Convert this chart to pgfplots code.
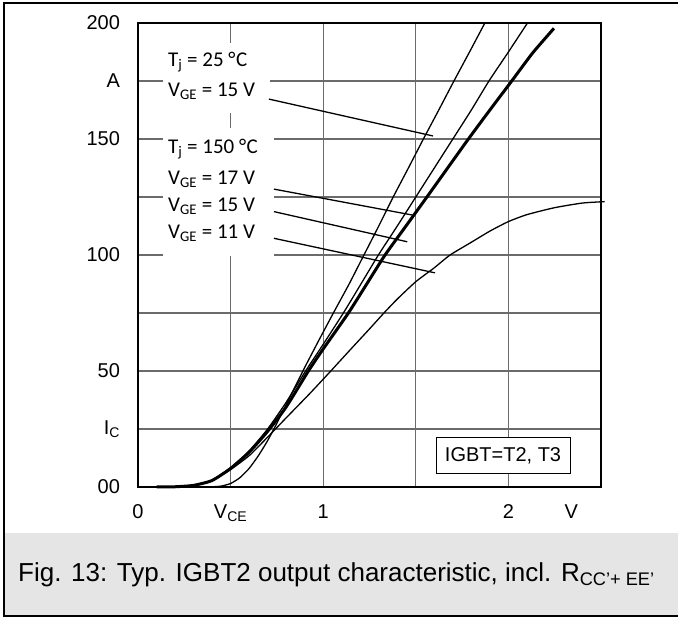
\documentclass[border=0pt]{standalone}
\usepackage{fontspec}
\setmainfont{Liberation Sans}
\newfontfamily\calfont{Carlito}
\usepackage{pgfplots}
\pgfplotsset{compat=1.18}
\definecolor{gridgray}{gray}{0.42}
\definecolor{capgray}{gray}{0.9}

\pgfplotstableread{
x y
0.1 0
0.3 0
0.4 0.1
0.45 0.4
0.5 1.5
0.55 4
0.6 8
0.65 13.5
0.7 20
0.75 27.5
0.8 35.5
0.85 43.5
0.9 51.5
0.975 63
1.055 75
1.14 87.5
1.22 100
1.3 112.5
1.378 125
1.46 137.5
1.541 150
1.624 162.5
1.706 175
1.79 187.5
1.873 200
}\tjcold

\pgfplotstableread{
x y
0.1 0
0.2 0.1
0.3 0.8
0.4 3
0.5 8.3
0.6 15.5
0.7 25
0.8 36.5
0.905 50
1.0 61.5
1.109 75
1.2 87
1.298 100
1.4 112.5
1.5 125
1.6 137.5
1.70 150
1.8 162.5
1.895 175
2.0 187.5
2.103 200
}\tjhotseventeen

\pgfplotstableread{
x y
0.1 0
0.2 0.1
0.3 0.7
0.4 2.8
0.5 8
0.6 15
0.7 24
0.8 34.5
0.92 50
1.0 59.5
1.136 75
1.235 87.5
1.334 100
1.447 112.5
1.56 125
1.672 137.5
1.784 150
1.9 162.5
2.018 175
2.13 187
2.246 197.7
}\tjhotfifteen

\pgfplotstableread{
x y
0.1 0
0.2 0.1
0.3 0.7
0.4 2.8
0.5 7.5
0.6 13.5
0.7 21.5
0.8 29.8
0.929 40.4
1.041 50
1.15 59.5
1.253 68.4
1.328 75
1.4 81
1.5 88.5
1.6 94.5
1.685 100
1.8 105.5
1.9 110.3
2.0 114.4
2.1 117.4
2.25 120.4
2.4 122.4
2.52 123
}\tjhoteleven

\begin{document}
\begin{tikzpicture}[x=1pt,y=1pt]
\useasboundingbox (0,0) rectangle (678,-617);
\fill[capgray] (4,-533) rectangle (678,-616);
\draw[line width=1.5pt] (678,-3) -- (4,-3) -- (4,-616) -- (678,-616);
\node[anchor=west, inner sep=0pt, font=\fontsize{26}{30}\selectfont] at (18,-575)
  {Fig. 13: Typ. IGBT2 output characteristic, incl. R\textsubscript{CC'+ EE'}};
\begin{axis}[
  at={(138pt,-487pt)}, anchor=south west,
  width=463pt, height=464pt, scale only axis,
  xmin=0, xmax=2.5, ymin=0, ymax=200,
  clip=false,
  xtick={0,0.5,1,1.5,2,2.5},
  xticklabels={0,V\textsubscript{CE},1,,2,},
  extra x ticks={2.34},
  extra x tick labels={V},
  extra x tick style={grid=none},
  ytick={0,25,50,75,100,125,150,175,200},
  yticklabels={00,I\textsubscript{C},50,,100,,150,A,200},
  grid=major,
  major grid style={draw=gridgray, line width=1.2pt},
  major tick length=0pt,
  axis line style={line width=2pt},
  tick label style={font=\fontsize{20}{24}\selectfont},
  xticklabel style={yshift=-14pt},
  yticklabel style={xshift=-14.5pt},
]
\addplot[black, line width=1.3pt, smooth, tension=0.35] table {\tjcold};
\addplot[black, line width=1.3pt, smooth, tension=0.35] table {\tjhotseventeen};
\addplot[black, line width=3pt, smooth, tension=0.35] table {\tjhotfifteen};
\addplot[black, line width=1.3pt, smooth, tension=0.35] table {\tjhoteleven};

\fill[white] (axis cs:0.135,191.4) rectangle (axis cs:0.713,161.2);
\fill[white] (axis cs:0.135,154.7) rectangle (axis cs:0.734,99.6);

\draw[black, line width=1.3pt] (axis cs:0.707,167.2) -- (axis cs:1.593,151.3);
\draw[black, line width=1.3pt] (axis cs:0.734,128.4) -- (axis cs:1.483,117.2);
\draw[black, line width=1.3pt] (axis cs:0.734,118.7) -- (axis cs:1.454,105.7);
\draw[black, line width=1.3pt] (axis cs:0.734,107.2) -- (axis cs:1.604,92.3);

\begin{scope}[every node/.style={anchor=west, inner sep=0pt, font=\calfont\fontsize{21}{24}\selectfont}]
\node at (axis cs:0.162,183.2) {T\textsubscript{j} = 25 °\kern0.5ptC};
\node at (axis cs:0.162,170.7) {V\textsubscript{GE} = 15 V};
\node at (axis cs:0.162,145.7) {T\textsubscript{j} = 150 °\kern0.5ptC};
\node at (axis cs:0.162,132.8) {V\textsubscript{GE} = 17 V};
\node at (axis cs:0.162,121.1) {V\textsubscript{GE} = 15 V};
\node at (axis cs:0.162,109.5) {V\textsubscript{GE} = 11 V};
\end{scope}

\node[draw=black, fill=white, line width=1pt, inner sep=0pt,
  minimum width=134pt, minimum height=36pt, font=\fontsize{20}{24}\selectfont]
  at (axis cs:1.971,13.4) {IGBT=T2, T3};
\end{axis}
\end{tikzpicture}
\end{document}
